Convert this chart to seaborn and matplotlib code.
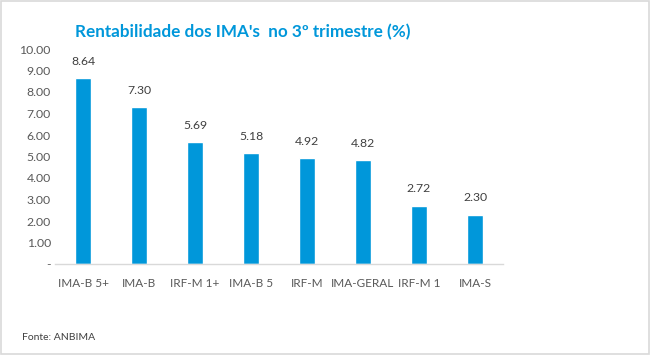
import matplotlib
matplotlib.use("Agg")
import matplotlib.pyplot as plt
import seaborn as sns
import pandas as pd
from matplotlib.patches import Rectangle

categories = ["IMA-B 5+", "IMA-B", "IRF-M 1+", "IMA-B 5", "IRF-M", "IMA-GERAL", "IRF-M 1", "IMA-S"]
values = [8.64, 7.30, 5.69, 5.18, 4.92, 4.82, 2.72, 2.30]
yticks = [0, 1, 2, 3, 4, 5, 6, 7, 8, 9, 10]
ytick_labels = ["-", "1.00", "2.00", "3.00", "4.00", "5.00", "6.00", "7.00", "8.00", "9.00", "10.00"]
title = "Rentabilidade dos IMA's  no 3º trimestre (%)"
source = "Fonte: ANBIMA"

sns.set_theme(style="white")
plt.rcParams['font.family'] = ['Lato', 'DejaVu Sans']

blue = "#0097DA"
gray = "#595959"

df = pd.DataFrame({"cat": categories, "val": values})

fig = plt.figure(figsize=(6.5, 3.55), dpi=100)
ax = fig.add_axes([55/650, 1-264/355, (503-55)/650, (264-49)/355])
sns.barplot(data=df, x="cat", y="val", color=blue, width=0.3, ax=ax, saturation=1)

ax.set_ylim(0, 10)
ax.set_yticks(yticks)
ax.set_yticklabels(ytick_labels, color=gray, fontsize=8.8)
ax.set_xlabel("")
ax.set_ylabel("")
ax.tick_params(axis='x', colors=gray, labelsize=8.5, pad=10, length=0)
ax.tick_params(axis='y', pad=3, length=0)
for lab in ax.get_xticklabels():
    lab.set_color(gray)
for s in ["top", "right", "left"]:
    ax.spines[s].set_visible(False)
ax.spines["bottom"].set_color("#D9D9D9")
ax.spines["bottom"].set_linewidth(1.0)

for i, v in enumerate(values):
    ax.annotate(f"{v:.2f}", (i, v), xytext=(0, 8), textcoords="offset points",
                ha="center", va="bottom", color="#404040", fontsize=8.8)

fig.text(243/650, 1-32/355, title, ha="center", va="center", color=blue,
         fontsize=12.3, fontweight="bold")
fig.text(22/650, 1-337/355, source, ha="left", va="center", color="#404040", fontsize=7.5)

fig.patches.append(Rectangle((0.0015, 0.003), 0.997, 0.994, transform=fig.transFigure,
                             fill=False, edgecolor="#D9D9D9", linewidth=1.2))

fig.savefig("out.png", dpi=100)
